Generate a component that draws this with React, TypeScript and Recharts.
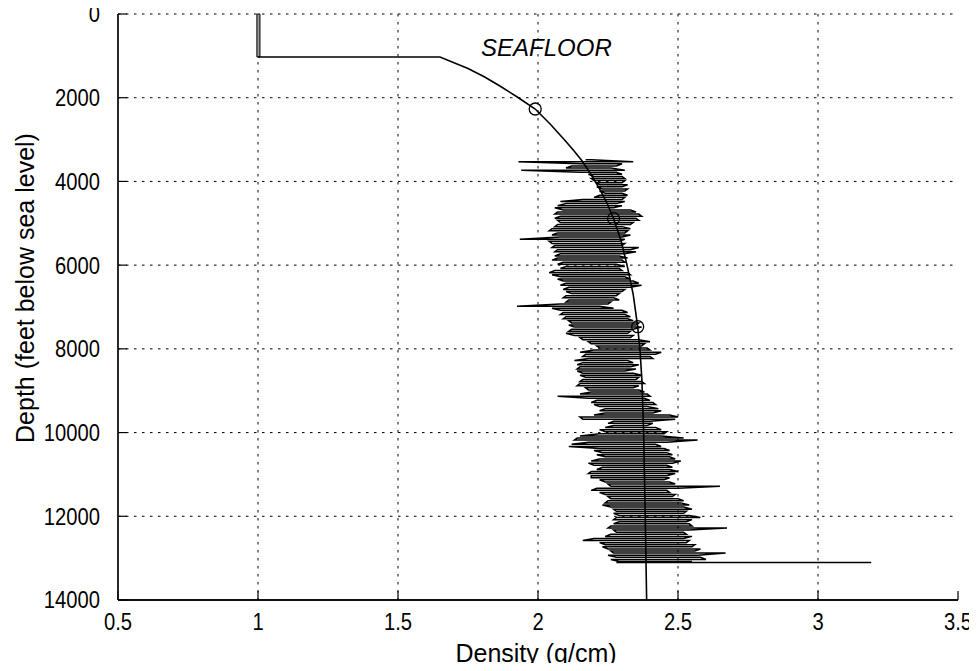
import React from 'react';
import {
  ScatterChart,
  Scatter,
  XAxis,
  YAxis,
  CartesianGrid,
  ReferenceArea,
  ReferenceDot,
} from 'recharts';

// Axis ticks
const X_TICKS = [0.5, 1, 1.5, 2, 2.5, 3, 3.5];
const Y_TICKS = [0, 2000, 4000, 6000, 8000, 10000, 12000, 14000];
const GRID_X = [1, 1.5, 2, 2.5, 3];
const GRID_Y = [0, 2000, 4000, 6000, 8000, 10000, 12000];

// Water column box (density, depth ft)
const WATER_BOX = { x1: 0.996, x2: 1.007, y1: 0, y2: 1027 };

// Seafloor compaction curve: [density, depth]
const SEAFLOOR_CURVE: [number, number][] = [
  [1.0, 1027], [1.65, 1027], [1.75, 1300], [1.808, 1500], [1.864, 1720],
  [1.93, 2000], [1.99, 2270], [2.045, 2640], [2.095, 3010], [2.126, 3250],
  [2.155, 3490], [2.19, 3840], [2.222, 4200], [2.248, 4540], [2.27, 4890],
  [2.296, 5400], [2.318, 6000], [2.34, 6700], [2.356, 7470], [2.365, 8100],
  [2.371, 8740], [2.377, 9940], [2.382, 11600], [2.388, 14000],
];

// Calibration points on the curve: [density, depth]
const CURVE_POINTS: [number, number][] = [
  [1.99, 2270], [2.27, 4890], [2.356, 7470],
];

// Density log: [depth, low excursion, high excursion]
const LOG_ROWS: [number, number, number][] = [
  [3480, 2.17, 2.19], [3530, 1.93, 2.34], [3580, 2.15, 2.3], [3630, 2.12, 2.28],
  [3680, 2.1, 2.26], [3730, 1.94, 2.31], [3780, 2.15, 2.28], [3830, 2.18, 2.3],
  [3880, 2.2, 2.3], [3930, 2.19, 2.31], [3980, 2.2, 2.31], [4030, 2.21, 2.3],
  [4080, 2.22, 2.32], [4130, 2.21, 2.3], [4180, 2.23, 2.32], [4230, 2.22, 2.31],
  [4280, 2.24, 2.3], [4330, 2.22, 2.32], [4380, 2.2, 2.31], [4430, 2.16, 2.3],
  [4480, 2.08, 2.31], [4530, 2.1, 2.28], [4580, 2.07, 2.3], [4630, 2.06, 2.27],
  [4680, 2.09, 2.33], [4730, 2.07, 2.35], [4780, 2.06, 2.36], [4830, 2.08, 2.37],
  [4880, 2.06, 2.35], [4930, 2.07, 2.36], [4980, 2.08, 2.34], [5030, 2.07, 2.33],
  [5080, 2.06, 2.3], [5130, 2.05, 2.33], [5180, 2.04, 2.32], [5230, 2.07, 2.31],
  [5280, 2.05, 2.33], [5330, 2.08, 2.3], [5380, 1.935, 2.31], [5430, 2.04, 2.29],
  [5480, 2.05, 2.31], [5530, 2.06, 2.3], [5580, 2.05, 2.36], [5630, 2.07, 2.33],
  [5680, 2.06, 2.35], [5730, 2.08, 2.31], [5780, 2.06, 2.29], [5830, 2.07, 2.32],
  [5880, 2.05, 2.3], [5930, 2.09, 2.31], [5980, 2.07, 2.28], [6030, 2.1, 2.31],
  [6080, 2.08, 2.29], [6130, 2.06, 2.3], [6180, 2.04, 2.32], [6230, 2.05, 2.33],
  [6280, 2.08, 2.31], [6330, 2.07, 2.33], [6380, 2.09, 2.34], [6430, 2.1, 2.36],
  [6480, 2.08, 2.37], [6530, 2.11, 2.33], [6580, 2.09, 2.31], [6630, 2.1, 2.3],
  [6680, 2.12, 2.29], [6730, 2.1, 2.28], [6780, 2.09, 2.27], [6830, 2.11, 2.29],
  [6880, 2.1, 2.26], [6930, 2.08, 2.25], [6980, 1.925, 2.22], [7030, 2.05, 2.27],
  [7080, 2.08, 2.3], [7130, 2.09, 2.32], [7180, 2.08, 2.31], [7230, 2.1, 2.33],
  [7280, 2.09, 2.32], [7330, 2.11, 2.34], [7380, 2.12, 2.36], [7430, 2.11, 2.35],
  [7480, 2.13, 2.37], [7530, 2.12, 2.34], [7580, 2.11, 2.33], [7630, 2.1, 2.32],
  [7680, 2.13, 2.34], [7730, 2.15, 2.33], [7780, 2.16, 2.36], [7830, 2.18, 2.4],
  [7880, 2.19, 2.38], [7930, 2.21, 2.37], [7980, 2.22, 2.39], [8030, 2.2, 2.4],
  [8080, 2.15, 2.44], [8130, 2.17, 2.42], [8180, 2.16, 2.4], [8230, 2.18, 2.41],
  [8280, 2.13, 2.32], [8330, 2.16, 2.34], [8380, 2.14, 2.36], [8430, 2.15, 2.33],
  [8480, 2.14, 2.35], [8530, 2.14, 2.31], [8580, 2.16, 2.34], [8630, 2.15, 2.37],
  [8680, 2.17, 2.36], [8730, 2.16, 2.35], [8780, 2.15, 2.37], [8830, 2.15, 2.38],
  [8880, 2.14, 2.36], [8930, 2.17, 2.34], [8980, 2.18, 2.36], [9030, 2.19, 2.38],
  [9080, 2.15, 2.39], [9130, 2.07, 2.4], [9180, 2.18, 2.38], [9230, 2.21, 2.4],
  [9280, 2.19, 2.41], [9330, 2.2, 2.42], [9380, 2.22, 2.39], [9430, 2.24, 2.43],
  [9480, 2.22, 2.44], [9530, 2.24, 2.41], [9580, 2.2, 2.47], [9630, 2.15, 2.5],
  [9680, 2.16, 2.49], [9730, 2.27, 2.4], [9780, 2.25, 2.41], [9830, 2.27, 2.39],
  [9880, 2.24, 2.42], [9930, 2.22, 2.44], [9980, 2.24, 2.46], [10030, 2.22, 2.45],
  [10080, 2.15, 2.44], [10130, 2.14, 2.52], [10180, 2.13, 2.57], [10230, 2.18, 2.46],
  [10280, 2.12, 2.42], [10330, 2.11, 2.44], [10380, 2.22, 2.45], [10430, 2.2, 2.47],
  [10480, 2.23, 2.46], [10530, 2.21, 2.48], [10580, 2.24, 2.47], [10630, 2.22, 2.49],
  [10680, 2.19, 2.51], [10730, 2.18, 2.48], [10780, 2.2, 2.46], [10830, 2.23, 2.48],
  [10880, 2.21, 2.47], [10930, 2.19, 2.5], [10980, 2.18, 2.49], [11030, 2.19, 2.46],
  [11080, 2.19, 2.47], [11130, 2.22, 2.45], [11180, 2.24, 2.47], [11230, 2.25, 2.49],
  [11280, 2.26, 2.65], [11330, 2.21, 2.5], [11380, 2.19, 2.46], [11430, 2.22, 2.47],
  [11480, 2.24, 2.49], [11530, 2.25, 2.48], [11580, 2.26, 2.5], [11630, 2.25, 2.52],
  [11680, 2.24, 2.51], [11730, 2.23, 2.54], [11780, 2.26, 2.52], [11830, 2.27, 2.55],
  [11880, 2.28, 2.53], [11930, 2.27, 2.52], [11980, 2.29, 2.54], [12030, 2.28, 2.58],
  [12080, 2.27, 2.55], [12130, 2.29, 2.53], [12180, 2.27, 2.54], [12230, 2.26, 2.55],
  [12280, 2.25, 2.675], [12330, 2.27, 2.54], [12380, 2.28, 2.52], [12430, 2.26, 2.53],
  [12480, 2.24, 2.55], [12530, 2.2, 2.52], [12580, 2.16, 2.54], [12630, 2.22, 2.53],
  [12680, 2.24, 2.56], [12730, 2.23, 2.55], [12780, 2.25, 2.58], [12830, 2.26, 2.56],
  [12880, 2.27, 2.67], [12930, 2.25, 2.57], [12980, 2.28, 2.58], [13030, 2.26, 2.6],
  [13080, 2.29, 2.55], [13105, 2.28, 3.19],
];

const SANS = "'Liberation Sans', Arial, Helvetica, sans-serif";

const noShape = () => <g />;

const XTick = (props: any) => {
  const { x, y, payload } = props;
  return (
    <text
      transform={`translate(${x},${y}) scale(0.86,1)`}
      textAnchor="middle"
      dy="0.72em"
      fontSize={23.5}
      fontFamily={SANS}
      fill="#000"
    >
      {payload.value}
    </text>
  );
};

const YTick = (props: any) => {
  const { x, y, payload } = props;
  return (
    <text
      transform={`translate(${x},${y}) scale(0.86,1)`}
      textAnchor="end"
      dy="0.36em"
      fontSize={23.5}
      fontFamily={SANS}
      fill="#000"
    >
      {payload.value}
    </text>
  );
};

export default function App() {
  const curveData = SEAFLOOR_CURVE.map(([x, y]) => ({ x, y }));
  const pointData = CURVE_POINTS.map(([x, y]) => ({ x, y }));
  const logData = LOG_ROWS.flatMap(([d, lo, hi], i) =>
    i % 2 === 0 || i === LOG_ROWS.length - 1
      ? [{ x: lo, y: d }, { x: hi, y: d }]
      : [{ x: hi, y: d }, { x: lo, y: d }]
  );

  return (
    <div
      style={{
        position: 'relative',
        width: 977,
        height: 671,
        margin: -8,
        fontFamily: SANS,
        overflow: 'hidden',
      }}
    >
      <ScatterChart
        width={977}
        height={671}
        margin={{ top: 14, right: 19, left: 18, bottom: 21 }}
      >
        <CartesianGrid
          stroke="#000"
          strokeDasharray="2.5 5.5"
          verticalValues={GRID_X}
          horizontalValues={GRID_Y}
        />
        <XAxis
          type="number"
          dataKey="x"
          domain={[0.5, 3.5]}
          ticks={X_TICKS}
          interval={0}
          height={50}
          tickSize={-9}
          tickMargin={22}
          axisLine={{ stroke: '#111', strokeWidth: 1.8 }}
          tickLine={{ stroke: '#000', strokeWidth: 1.2 }}
          tick={<XTick />}
          allowDataOverflow
        />
        <YAxis
          type="number"
          dataKey="y"
          domain={[0, 14000]}
          reversed
          ticks={Y_TICKS}
          interval={0}
          width={100}
          tickSize={-9}
          tickMargin={27}
          axisLine={{ stroke: '#111', strokeWidth: 1.8 }}
          tickLine={{ stroke: '#000', strokeWidth: 1.2 }}
          tick={<YTick />}
          allowDataOverflow
        />
        <ReferenceArea
          x1={WATER_BOX.x1}
          x2={WATER_BOX.x2}
          y1={WATER_BOX.y1}
          y2={WATER_BOX.y2}
          fill="#9a9a9a"
          fillOpacity={1}
          stroke="#000"
          strokeWidth={1}
          ifOverflow="visible"
        />
        <Scatter
          data={logData}
          line={{ stroke: '#000', strokeWidth: 1.5 }}
          shape={noShape}
          isAnimationActive={false}
        />
        <Scatter
          data={curveData}
          line={{ stroke: '#000', strokeWidth: 1.6 }}
          shape={noShape}
          isAnimationActive={false}
        />
        <Scatter
          data={pointData}
          shape={(p: any) => (
            <circle cx={p.cx} cy={p.cy} r={6} fill="none" stroke="#000" strokeWidth={1.3} />
          )}
          isAnimationActive={false}
        />
        <ReferenceDot
          x={2.03}
          y={790}
          r={0}
          fill="none"
          stroke="none"
          label={{
            value: 'SEAFLOOR',
            position: 'center',
            fontSize: 24,
            fontStyle: 'italic',
            fill: '#000',
            fontFamily: SANS,
          }}
        />
      </ScatterChart>
      <div
        style={{
          position: 'absolute',
          left: 536,
          top: 653,
          transform: 'translate(-50%, -50%)',
          whiteSpace: 'nowrap',
          fontSize: 25,
          lineHeight: 1,
          color: '#000',
        }}
      >
        Density (g/cm)
      </div>
      <div
        style={{
          position: 'absolute',
          left: 25,
          top: 288,
          transform: 'translate(-50%, -50%) rotate(-90deg)',
          whiteSpace: 'nowrap',
          fontSize: 25,
          lineHeight: 1,
          color: '#000',
        }}
      >
        Depth (feet below sea level)
      </div>
    </div>
  );
}
